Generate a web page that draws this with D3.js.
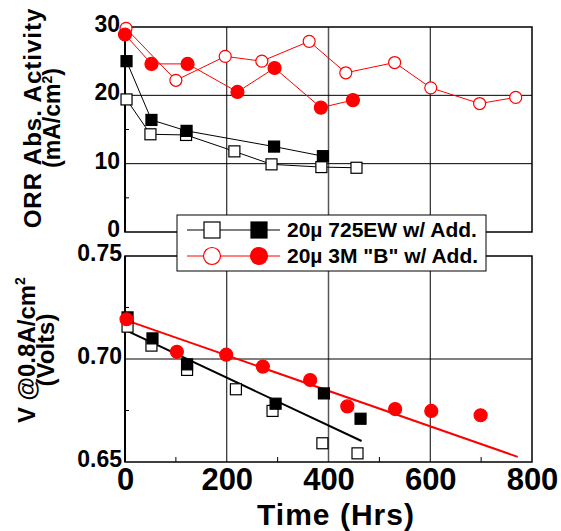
<!DOCTYPE html>
<html>
<head>
<meta charset="utf-8">
<script src="https://cdn.jsdelivr.net/npm/d3@7"></script>
<style>
  body { margin: 0; background: #fff; }
  svg { display: block; font-family: "Liberation Sans", Arial, sans-serif; font-weight: bold; }
</style>
</head>
<body>
<svg id="vis" width="561" height="531"></svg>
<script>
// top panel: ORR abs. activity (mA/cm2)
const ewOpenTop = [[3, 19.4], [50, 14.3], [120, 14.2], [215, 11.8], [288, 9.9], [386, 9.5], [455, 9.4]];
const ewFillTop = [[3, 25.0], [52, 16.4], [121, 14.8], [293, 12.5], [389, 11.1]];
const bOpenTop = [[2, 29.8], [100, 22.2], [197, 25.7], [269, 25.0], [362, 27.9], [434, 23.3], [530, 24.8], [601, 21.1], [697, 18.8], [768, 19.7]];
const bFillTop = [[0, 28.9], [52, 24.6], [123, 24.6], [221, 20.5], [294, 24.0], [385, 18.2], [448, 19.3]];

// bottom panel: V @ 0.8A/cm2 (Volts)
const ewOpenBot = [[5, 0.7157], [52, 0.7065], [122, 0.6947], [218, 0.6853], [290, 0.6748], [388, 0.6591], [457, 0.6542]];
const ewFillBot = [[5, 0.7202], [54, 0.7100], [122, 0.6974], [296, 0.6783], [391, 0.6833], [463, 0.6710]];
const bFillBot = [[3, 0.7193], [102, 0.7035], [199, 0.7021], [271, 0.6963], [364, 0.6898], [437, 0.6770], [531, 0.6757], [602, 0.6748], [699, 0.6727]];
const ewFit = [[0, 0.7141], [465, 0.6602]];
const bFit = [[0, 0.7190], [772, 0.6525]];

const xTicks = [0, 200, 400, 600, 800];
const topTicks = [0, 10, 20, 30];
const botTicks = [0.65, 0.70, 0.75];
const legendNames = ["20\u00b5 725EW w/ Add.", "20\u00b5 3M \"B\" w/ Add."];

const svg = d3.select("#vis");
const left = 125, right = 532;

const x = d3.scaleLinear().domain([0, 800]).range([left, right]);
const yTop = d3.scaleLinear().domain([0, 30]).range([232, 27]);
const yBot = d3.scaleLinear().domain([0.65, 0.75]).range([462, 256]);

// grids + frames
drawFrame = (y, hGrid, minorY) => {
  const g = svg.append("g");
  const [y0, y1] = y.range();
  g.selectAll(".vg").data([200, 400, 600]).join("line")
    .attr("x1", d => x(d)).attr("x2", d => x(d))
    .attr("y1", y1).attr("y2", y0)
    .attr("stroke", d => d === 400 ? "#555" : "#000")
    .attr("stroke-width", d => d === 400 ? 1.5 : 1);
  g.selectAll(".hg").data(hGrid).join("line")
    .attr("x1", left).attr("x2", right)
    .attr("y1", d => y(d)).attr("y2", d => y(d))
    .attr("stroke", "#000").attr("stroke-width", 1);
  g.selectAll(".mt").data(minorY).join("line")
    .attr("x1", left).attr("x2", left + 4)
    .attr("y1", d => y(d)).attr("y2", d => y(d))
    .attr("stroke", "#000").attr("stroke-width", 1);
  g.append("rect")
    .attr("x", left).attr("y", y1)
    .attr("width", right - left).attr("height", y0 - y1)
    .attr("fill", "none").attr("stroke", "#000").attr("stroke-width", 1.5);
  g.append("line")
    .attr("x1", left).attr("x2", left).attr("y1", y1).attr("y2", y0)
    .attr("stroke", "#000").attr("stroke-width", 2);
  return g;
}

drawFrame(yTop, [10, 20], [5, 15, 25]);
const gb = drawFrame(yBot, [0.70], [0.675, 0.725]);
gb.selectAll(".xm").data([100, 300, 500, 700]).join("line")
  .attr("x1", d => x(d)).attr("x2", d => x(d))
  .attr("y1", 462).attr("y2", 457)
  .attr("stroke", "#000");

// tick labels through axes
styleAxis = (g, size) => {
  g.select(".domain").remove();
  g.selectAll("text").attr("font-size", size).attr("font-weight", "bold")
    .attr("font-family", "Liberation Sans, Arial, sans-serif").attr("fill", "#000");
}
svg.append("g").attr("transform", `translate(${left},-3)`)
  .call(d3.axisLeft(yTop).tickValues(topTicks).tickSize(0).tickPadding(5).tickFormat(d3.format("d")))
  .call(g => styleAxis(g, 23));
svg.append("g").attr("transform", `translate(${left},-3)`)
  .call(d3.axisLeft(yBot).tickValues(botTicks).tickSize(0).tickPadding(3).tickFormat(d3.format(".2f")))
  .call(g => styleAxis(g, 23));
svg.append("g").attr("transform", `translate(0,462)`)
  .call(d3.axisBottom(x).tickValues(xTicks).tickSize(0).tickPadding(6).tickFormat(d3.format("d")))
  .call(g => styleAxis(g, 31));

// axis titles
svg.append("text").attr("x", 336).attr("y", 525).attr("text-anchor", "middle")
  .attr("font-size", 30).attr("letter-spacing", 1).text("Time (Hrs)");

// keep a rotated multi-span label centred on its own origin
centre = (t) => {
  const bb = t.node().getBBox();
  t.attr("x", +t.attr("x") - (bb.x + bb.width / 2));
}

const t1 = svg.append("g").attr("transform", "translate(41,118) rotate(-90)");
t1.append("text").attr("x", 0).attr("font-size", 24)
  .attr("letter-spacing", 1).text("ORR Abs. Activity").call(centre);
const t1b = t1.append("text").attr("x", 0).attr("font-size", 23).attr("y", 19);
t1b.append("tspan").text("(mA/cm");
t1b.append("tspan").attr("font-size", 14).attr("baseline-shift", "60%").text("2");
t1b.append("tspan").text(")");
centre(t1b);

const t2 = svg.append("g").attr("transform", "translate(35,350) rotate(-90)");
const t2a = t2.append("text").attr("x", 0).attr("font-size", 24);
t2a.append("tspan").text("V @0.8A/cm");
t2a.append("tspan").attr("font-size", 14).attr("baseline-shift", "70%").text("2");
centre(t2a);
t2.append("text").attr("x", 0).attr("font-size", 24).attr("y", 19).text("(Volts)").call(centre);

// series
const line = (y) => d3.line().x(d => x(d[0])).y(d => y(d[1]));

drawSeries = (data, y, color, shape, filled, connect, size) => {
  const g = svg.append("g");
  if (connect) {
    g.append("path").datum(data).attr("d", line(y)).attr("fill", "none")
      .attr("stroke", color).attr("stroke-width", 1);
  }
  if (shape === "square") {
    g.selectAll("rect").data(data).join("rect")
      .attr("x", d => x(d[0]) - size / 2).attr("y", d => y(d[1]) - size / 2)
      .attr("width", size).attr("height", size)
      .attr("fill", filled ? color : "#fff").attr("stroke", color).attr("stroke-width", 1.2);
  } else {
    g.selectAll("circle").data(data).join("circle")
      .attr("cx", d => x(d[0])).attr("cy", d => y(d[1])).attr("r", size / 2)
      .attr("fill", filled ? color : "#fff").attr("stroke", color).attr("stroke-width", 1.2);
  }
}

drawSeries(ewOpenTop, yTop, "#000", "square", false, true, 11);
drawSeries(ewFillTop, yTop, "#000", "square", true, true, 11);
drawSeries(bOpenTop, yTop, "#ff0000", "circle", false, true, 12);
drawSeries(bFillTop, yTop, "#ff0000", "circle", true, true, 13);

svg.append("path").datum(ewFit).attr("d", line(yBot)).attr("fill", "none")
  .attr("stroke", "#000").attr("stroke-width", 2);
svg.append("path").datum(bFit).attr("d", line(yBot)).attr("fill", "none")
  .attr("stroke", "#ff0000").attr("stroke-width", 2);
drawSeries(ewOpenBot, yBot, "#000", "square", false, false, 11);
drawSeries(ewFillBot, yBot, "#000", "square", true, false, 11);
drawSeries(bFillBot, yBot, "#ff0000", "circle", true, false, 13);

// legend
const lg = svg.append("g");
lg.append("rect").attr("x", 177).attr("y", 215).attr("width", 309).attr("height", 56)
  .attr("fill", "#fff").attr("stroke", "#000").attr("stroke-width", 1);
const legRows = [
  {name: legendNames[0], color: "#000", shape: "square", y: 230},
  {name: legendNames[1], color: "#ff0000", shape: "circle", y: 256}
];
legRows.forEach(r => {
  lg.append("line").attr("x1", 187).attr("x2", 280).attr("y1", r.y).attr("y2", r.y)
    .attr("stroke", r.color).attr("stroke-width", 1);
  [[212, false], [259, true]].forEach(([cx, filled]) => {
    if (r.shape === "square") {
      lg.append("rect").attr("x", cx - 8).attr("y", r.y - 8).attr("width", 16).attr("height", 16)
        .attr("fill", filled ? r.color : "#fff").attr("stroke", r.color).attr("stroke-width", 1.2);
    } else {
      lg.append("circle").attr("cx", cx).attr("cy", r.y).attr("r", 8.5)
        .attr("fill", filled ? r.color : "#fff").attr("stroke", r.color).attr("stroke-width", 1.2);
    }
  });
  lg.append("text").attr("x", 287).attr("y", r.y + 7).attr("font-size", 21).text(r.name);
});
</script>
</body>
</html>
